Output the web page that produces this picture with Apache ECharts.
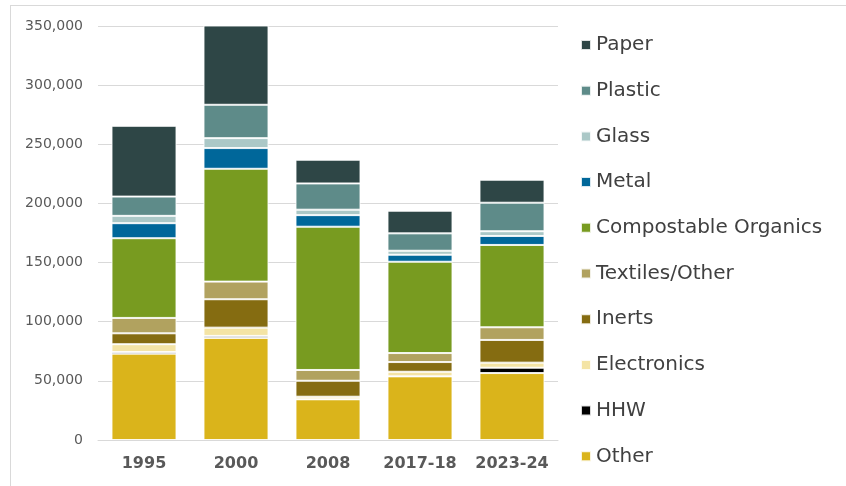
<!DOCTYPE html>
<html>
<head>
<meta charset="utf-8">
<script src="https://cdn.jsdelivr.net/npm/echarts@6/dist/echarts.min.js"></script>
<style>
  html, body { margin: 0; padding: 0; background: #fff; }
  .frame {
    position: absolute;
    left: 10px;
    top: 5px;
    width: 836px;
    height: 481px;
    border-top: 1px solid #d9d9d9;
    border-left: 1px solid #d9d9d9;
  }
  #chart { position: absolute; left: 0; top: 0; width: 846px; height: 486px; }
</style>
</head>
<body>
<div class="frame"></div>
<div id="chart"></div>
<script>
  const years = ['1995', '2000', '2008', '2017-18', '2023-24']
  // stacked bottom -> top
  const other = [73000, 86300, 34400, 53800, 56600]
  const hhw = [1400, 1700, 0, 0, 4500]
  const electronics = [6600, 7000, 2200, 3900, 4300]
  const inerts = [9200, 24000, 13500, 8200, 19200]
  const textiles = [13000, 14900, 9100, 7600, 10700]
  const organics = [67400, 95400, 121100, 77200, 69600]
  const metal = [12700, 17500, 9800, 5900, 7600]
  const glass = [6200, 8400, 4600, 3400, 4000]
  const plastic = [16300, 28200, 22200, 14700, 24100]
  const paper = [59800, 67600, 20000, 19100, 19400]

  const seriesDefs = [
    { name: 'Other', data: other, color: '#dab41b' },
    { name: 'HHW', data: hhw, color: '#000000' },
    { name: 'Electronics', data: electronics, color: '#f4e4a5' },
    { name: 'Inerts', data: inerts, color: '#856c11' },
    { name: 'Textiles/Other', data: textiles, color: '#b1a25f' },
    { name: 'Compostable Organics', data: organics, color: '#789b20' },
    { name: 'Metal', data: metal, color: '#00679a' },
    { name: 'Glass', data: glass, color: '#abc8c7' },
    { name: 'Plastic', data: plastic, color: '#5e8b89' },
    { name: 'Paper', data: paper, color: '#2e4646' },
  ]

  const myChart = echarts.init(document.getElementById('chart'))
  const option = {
    animation: false,
    textStyle: { fontFamily: 'DejaVu Sans' },
    grid: {
      left: 98,
      right: 288,
      top: 26,
      bottom: 46,
    },
    legend: {
      orient: 'vertical',
      left: 575,
      top: 29,
      data: seriesDefs.map(s => s.name).reverse(),
      icon: 'rect',
      itemWidth: 10,
      itemHeight: 10,
      itemGap: 23.7,
      textStyle: {
        color: '#404040',
        fontSize: 20,
        lineHeight: 22,
      },
    },
    xAxis: {
      type: 'category',
      data: years,
      axisLine: { lineStyle: { color: '#d9d9d9', width: 1 } },
      axisTick: { show: false },
      axisLabel: {
        interval: 0,
        color: '#595959',
        fontSize: 16,
        fontWeight: 'bold',
        margin: 16,
      },
    },
    yAxis: {
      type: 'value',
      min: 0,
      max: 350000,
      interval: 50000,
      axisLine: { show: false },
      axisTick: { show: false },
      axisLabel: {
        color: '#595959',
        fontSize: 14,
        margin: 15,
        formatter: v => v.toLocaleString('en-US'),
      },
      splitLine: { lineStyle: { color: '#d9d9d9', width: 1 } },
    },
    series: seriesDefs.map(s => ({
      name: s.name,
      type: 'bar',
      stack: 'total',
      data: s.data,
      barWidth: 65,
      itemStyle: {
        color: s.color,
        borderColor: 'rgba(255,255,255,0.85)',
        borderWidth: 1,
      },
    })),
  }
  option && myChart.setOption(option)
</script>
</body>
</html>
